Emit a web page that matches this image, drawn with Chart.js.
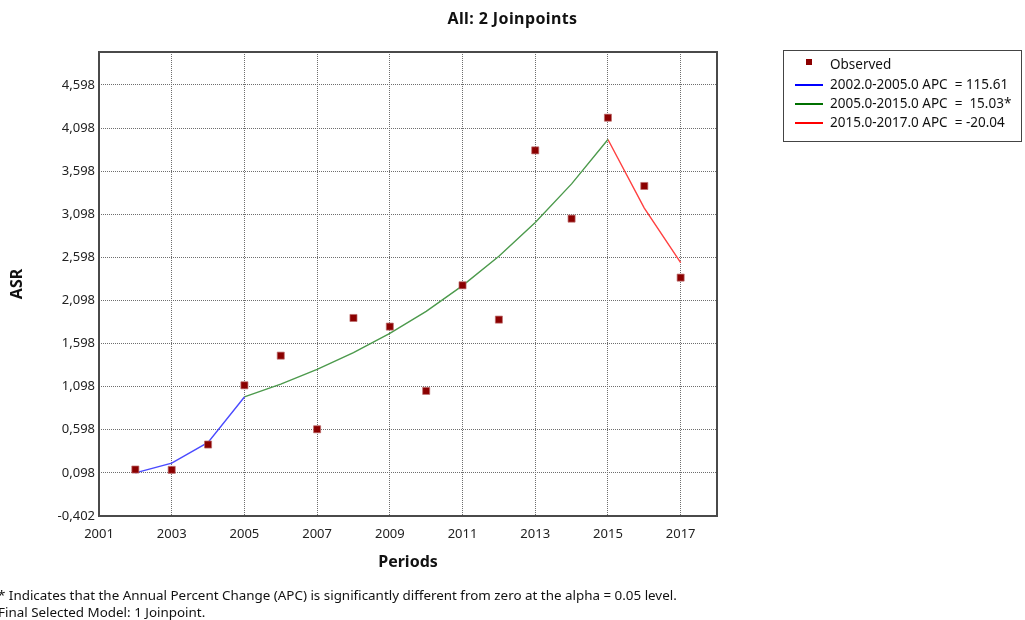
<!DOCTYPE html>
<html>
<head>
<meta charset="utf-8">
<script src="https://cdn.jsdelivr.net/npm/chart.js@4.4.1/dist/chart.umd.min.js"></script>
<style>
  html, body { margin: 0; padding: 0; background: #fff; }
  body { width: 1025px; height: 620px; position: relative; overflow: hidden; font-family: "Noto Sans", "DejaVu Sans", sans-serif; color: #111; }
  #wrap { position: absolute; left: 0; top: 0; width: 1025px; height: 620px; }
  #title { position: absolute; left: 0; width: 1025px; top: 7px; text-align: center; font-weight: bold; font-size: 16px; letter-spacing: 0.4px; line-height: 22px; }
  #legend { position: absolute; left: 783px; top: 50px; width: 239px; height: 92px; border: 1px solid #444; box-sizing: border-box; font-size: 13.5px; }
  .row { position: absolute; left: 0; height: 19px; line-height: 19px; white-space: pre; }
  .row span.t { position: absolute; left: 46px; top: 0; }
  .row i { position: absolute; display: block; }
  #foot { position: absolute; left: -2px; top: 587px; font-size: 13.4px; line-height: 17px; white-space: pre; }
</style>
</head>
<body>
<div id="wrap"><canvas id="c" width="1025" height="620"></canvas></div>
<div id="title"></div>
<div id="legend"></div>
<div id="foot"></div>
<script>
// Observed age-standardised rates by year
const years = [2002, 2003, 2004, 2005, 2006, 2007, 2008, 2009, 2010, 2011, 2012, 2013, 2014, 2015, 2016, 2017];
const observed = [0.137, 0.133, 0.427, 1.114, 1.458, 0.604, 1.895, 1.795, 1.049, 2.274, 1.876, 3.839, 3.047, 4.218, 3.426, 2.363];

// Joinpoint segments (fitted values)
const seg1Years = [2002, 2003, 2004, 2005];
const seg1Fit = [0.098, 0.212, 0.451, 0.979];
const seg2Years = [2005, 2006, 2007, 2008, 2009, 2010, 2011, 2012, 2013, 2014, 2015];
const seg2Fit = [0.979, 1.128, 1.298, 1.492, 1.716, 1.972, 2.270, 2.610, 3.002, 3.450, 3.965];
const seg3Years = [2015, 2016, 2017];
const seg3Fit = [3.965, 3.170, 2.537];

// Axis ticks
const xTicks = [2001, 2003, 2005, 2007, 2009, 2011, 2013, 2015, 2017];
const yTicks = [-0.402, 0.098, 0.598, 1.098, 1.598, 2.098, 2.598, 3.098, 3.598, 4.098, 4.598];

// Texts
const chartTitle = 'All: 2 Joinpoints';
const legendLabels = ['Observed', '2002.0-2005.0 APC  = 115.61', '2005.0-2015.0 APC  =  15.03*', '2015.0-2017.0 APC  = -20.04'];
const footnotes = ['* Indicates that the Annual Percent Change (APC) is significantly different from zero at the alpha = 0.05 level.', 'Final Selected Model: 1 Joinpoint.'];

const pts = (xs, ys) => xs.map((x, i) => ({ x: x, y: ys[i] }));

// Title, legend and footnote
document.getElementById('title').textContent = chartTitle;
document.getElementById('foot').textContent = footnotes.join('\n');
const legendColors = [null, '#0000ff', '#007000', '#ff0000'];
const legendEl = document.getElementById('legend');
const rowTops = [4, 24, 43, 62];
legendLabels.forEach((lab, i) => {
  const row = document.createElement('div');
  row.className = 'row';
  row.style.top = rowTops[i] + 'px';
  row.style.width = '237px';
  const mark = document.createElement('i');
  if (i === 0) {
    mark.style.cssText = 'left:22px;top:4px;width:6px;height:6px;background:#8b0000;';
  } else {
    mark.style.cssText = 'left:11px;top:9px;width:28px;height:2px;background:' + legendColors[i] + ';';
  }
  const t = document.createElement('span');
  t.className = 't';
  t.textContent = lab;
  row.appendChild(mark);
  row.appendChild(t);
  legendEl.appendChild(row);
});

// Frame around the plotting area
const frame = {
  id: 'frame',
  afterDraw(chart) {
    const a = chart.chartArea, ctx = chart.ctx;
    ctx.save();
    ctx.strokeStyle = '#4a4a4a';
    ctx.lineWidth = 2;
    ctx.strokeRect(a.left, a.top, a.right - a.left, a.bottom - a.top);
    ctx.restore();
  }
};

const fmtY = v => v.toFixed(3).replace('.', ',');

new Chart(document.getElementById('c'), {
  type: 'scatter',
  data: {
    datasets: [
      {
        label: legendLabels[0], data: pts(years, observed), showLine: false,
        pointStyle: 'rect', pointRadius: 5, pointHoverRadius: 5,
        backgroundColor: '#8b0000', borderColor: 'rgba(190,110,110,0.7)', borderWidth: 1, order: 0
      },
      {
        label: legendLabels[1], data: pts(seg1Years, seg1Fit), showLine: true, pointRadius: 0,
        borderColor: '#4a4aff', borderWidth: 1.4, tension: 0, order: 1
      },
      {
        label: legendLabels[2], data: pts(seg2Years, seg2Fit), showLine: true, pointRadius: 0,
        borderColor: '#4c9a4c', borderWidth: 1.4, tension: 0, order: 1
      },
      {
        label: legendLabels[3], data: pts(seg3Years, seg3Fit), showLine: true, pointRadius: 0,
        borderColor: '#ff4040', borderWidth: 1.4, tension: 0, order: 1
      }
    ]
  },
  options: {
    responsive: false,
    animation: false,
    events: [],
    layout: { padding: { left: 0, right: 308, top: 52, bottom: 40 } },
    plugins: { legend: { display: false }, title: { display: false }, tooltip: { enabled: false } },
    scales: {
      x: {
        type: 'linear', min: 2001, max: 2018,
        afterBuildTicks: s => { s.ticks = xTicks.map(v => ({ value: v })); },
        afterFit: s => { s.height = 64; },
        grid: { color: '#6e6e6e', drawTicks: false, lineWidth: 1 },
        border: { display: false, dash: [1, 1] },
        ticks: { padding: 10, color: '#222', font: { family: 'Noto Sans', size: 13 }, callback: v => String(v), maxRotation: 0 },
        title: { display: true, text: 'Periods', color: '#111', font: { family: 'Noto Sans', size: 16, weight: 'bold' }, padding: { top: 0, bottom: 8 } }
      },
      y: {
        type: 'linear', min: -0.402, max: 4.98,
        afterBuildTicks: s => { s.ticks = yTicks.map(v => ({ value: v })); },
        afterFit: s => { s.width = 99; },
        grid: { color: '#6e6e6e', drawTicks: false, lineWidth: 1 },
        border: { display: false, dash: [1, 1] },
        ticks: { padding: 4, color: '#222', font: { family: 'Noto Sans', size: 13 }, callback: v => fmtY(v) },
        title: { display: true, text: 'ASR', color: '#111', font: { family: 'Noto Sans', size: 16, weight: 'bold' }, padding: { top: 8, bottom: 0 } }
      }
    }
  },
  plugins: [frame]
});
</script>
</body>
</html>
